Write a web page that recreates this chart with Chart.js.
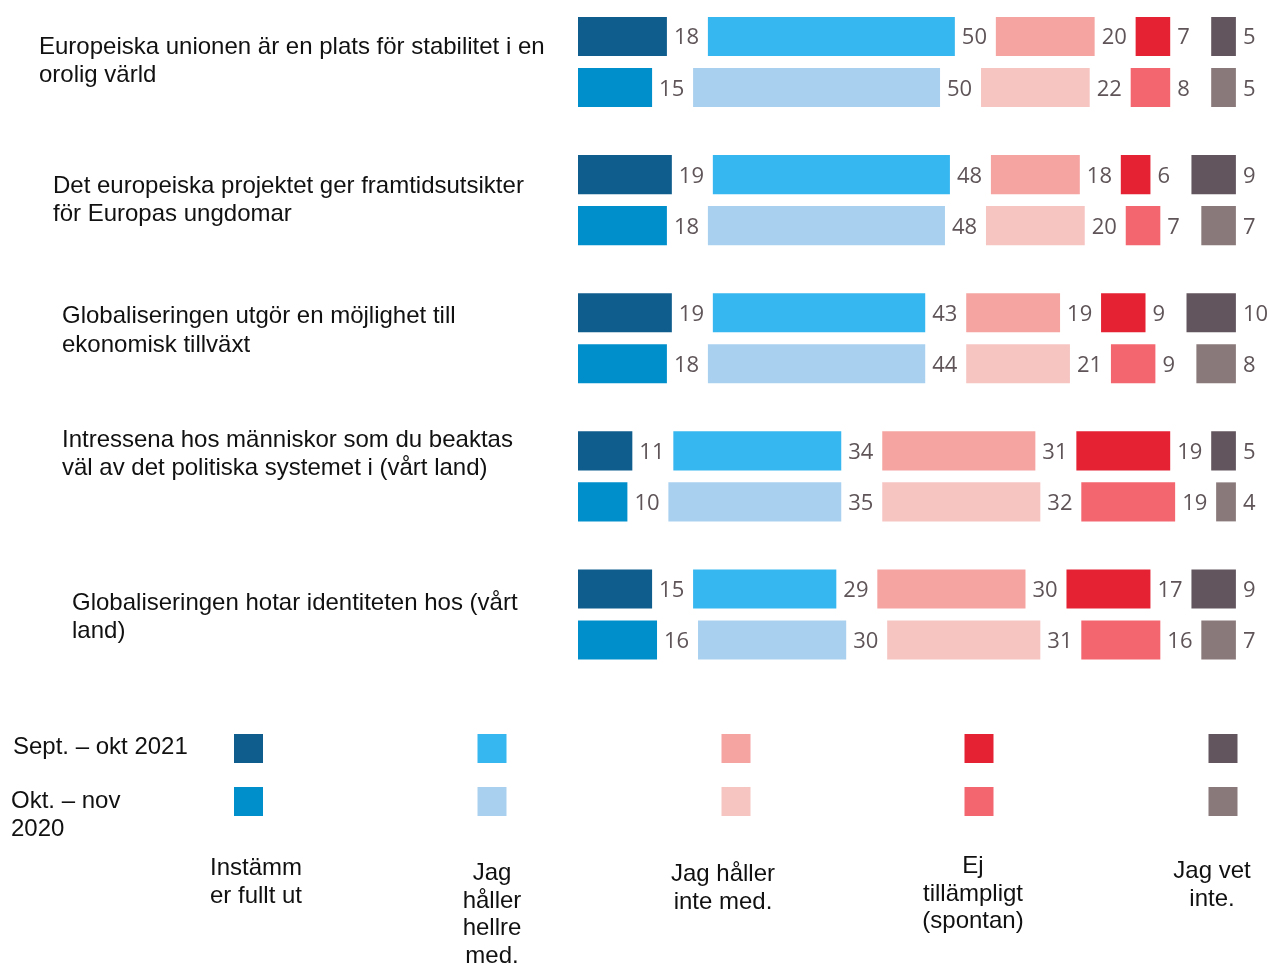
<!DOCTYPE html>
<html>
<head>
<meta charset="utf-8">
<script src="https://cdn.jsdelivr.net/npm/chart.js@4.4.0/dist/chart.umd.min.js"></script>
<style>
  html, body { margin: 0; padding: 0; background: #ffffff; }
  #wrap { width: 1268px; height: 964px; position: relative; }
</style>
</head>
<body>
<div id="wrap"><canvas id="c"></canvas></div>
<script>
// ---------- DATA ----------
const QUESTIONS = [
  ["Europeiska unionen är en plats för stabilitet i en", "orolig värld"],
  ["Det europeiska projektet ger framtidsutsikter", "för Europas ungdomar"],
  ["Globaliseringen utgör en möjlighet till", "ekonomisk tillväxt"],
  ["Intressena hos människor som du beaktas", "väl av det politiska systemet i (vårt land)"],
  ["Globaliseringen hotar identiteten hos (vårt", "land)"]
];
const PERIODS = ["Sept. – okt 2021", "Okt. – nov 2020"];
const PERIOD_LINES = [["Sept. – okt 2021"], ["Okt. – nov", "2020"]];
const RESPONSES = ["Instämmer fullt ut", "Jag håller hellre med.", "Jag håller inte med.", "Ej tillämpligt (spontan)", "Jag vet inte."];
const RESPONSE_LINES = [["Instämm", "er fullt ut"], ["Jag", "håller", "hellre", "med."], ["Jag håller", "inte med."], ["Ej", "tillämpligt", "(spontan)"], ["Jag vet", "inte."]];

const agreeFull2021   = [18, 19, 19, 11, 15];
const agreeRather2021 = [50, 48, 43, 34, 29];
const disagree2021    = [20, 18, 19, 31, 30];
const notApplic2021   = [7, 6, 9, 19, 17];
const dontKnow2021    = [5, 9, 10, 5, 9];

const agreeFull2020   = [15, 18, 18, 10, 16];
const agreeRather2020 = [50, 48, 44, 35, 30];
const disagree2020    = [22, 20, 21, 32, 31];
const notApplic2020   = [8, 7, 9, 19, 16];
const dontKnow2020    = [5, 7, 8, 4, 7];

const SERIES = [
  [agreeFull2021, agreeRather2021, disagree2021, notApplic2021, dontKnow2021],
  [agreeFull2020, agreeRather2020, disagree2020, notApplic2020, dontKnow2020]
];

// ---------- STYLE ----------
const COLORS = [
  ["#0f5d8d", "#37b7ef", "#f5a4a1", "#e42233", "#62555d"],
  ["#008fcb", "#a9d1ef", "#f6c5c2", "#f4666f", "#8a797a"]
];
const GAP = 8.3;            // spacing (in axis units) reserved for the value labels
const X_MAX = 139.7;
const LABEL_FONT = '22px "Open Sans", "Noto Sans", sans-serif';
const LABEL_COLOR = '#5f5558';
const TEXT_FONT = '24px "Liberation Sans", Arial, sans-serif';
const TEXT_COLOR = '#111111';

const Q_INDENT = [39, 53, 62, 62, 72];
const Q_FIRST_BASELINE = [-8.5, -7, -15, -29.5, -4.5];
const Q_LINE_H = 28.3;

const LEG_SQ_X = [248.5, 492, 736, 979, 1223];
const LEG_SQ_Y = [734, 787];
const LEG_SQ = 29;
const LEG_TXT_X = [256, 492, 723, 973, 1212];
const LEG_TXT_Y = [875, 880, 881, 873, 878];
const LEG_LINE_H = 27.7;
const PER_X = [13, 11];
const PER_Y = [754, 808];

// ---------- DATASETS ----------
const datasets = [];
SERIES.forEach((periodSeries, p) => {
  periodSeries.forEach((vals, k) => {
    datasets.push({
      label: RESPONSES[k] + ' – ' + PERIODS[p],
      data: vals,
      backgroundColor: COLORS[p][k],
      borderWidth: 0,
      stack: 'p' + p,
      clip: false,
      isValue: true
    });
    if (k < periodSeries.length - 1) {
      datasets.push({
        label: 'gap',
        data: QUESTIONS.map(() => GAP),
        backgroundColor: 'rgba(0,0,0,0)',
        borderWidth: 0,
        stack: 'p' + p,
        clip: false,
        isValue: false
      });
    }
  });
});

// ---------- PLUGINS ----------
const valueLabels = {
  id: 'valueLabels',
  afterDatasetsDraw(chart) {
    const ctx = chart.ctx;
    ctx.save();
    ctx.font = LABEL_FONT;
    ctx.fillStyle = LABEL_COLOR;
    ctx.textAlign = 'left';
    ctx.textBaseline = 'alphabetic';
    chart.data.datasets.forEach((ds, di) => {
      if (!ds.isValue) return;
      const meta = chart.getDatasetMeta(di);
      meta.data.forEach((el, i) => {
        ctx.fillText(String(ds.data[i]), el.x + 7, el.y + 8);
      });
    });
    ctx.restore();
  }
};

const sideText = {
  id: 'sideText',
  afterDraw(chart) {
    const ctx = chart.ctx;
    const yScale = chart.scales.y;
    ctx.save();
    ctx.font = TEXT_FONT;
    ctx.fillStyle = TEXT_COLOR;
    ctx.textBaseline = 'alphabetic';
    // question labels
    ctx.textAlign = 'left';
    QUESTIONS.forEach((lines, i) => {
      const cy = yScale.getPixelForValue(i);
      lines.forEach((t, j) => {
        ctx.fillText(t, Q_INDENT[i], cy + Q_FIRST_BASELINE[i] + j * Q_LINE_H);
      });
    });
    // legend: period labels
    PERIOD_LINES.forEach((lines, p) => {
      lines.forEach((t, j) => ctx.fillText(t, PER_X[p], PER_Y[p] + j * 28));
    });
    // legend: swatches
    COLORS.forEach((row, p) => {
      row.forEach((c, k) => {
        ctx.fillStyle = c;
        ctx.fillRect(LEG_SQ_X[k] - LEG_SQ / 2, LEG_SQ_Y[p], LEG_SQ, LEG_SQ);
      });
    });
    // legend: response labels
    ctx.fillStyle = TEXT_COLOR;
    ctx.textAlign = 'center';
    RESPONSE_LINES.forEach((lines, k) => {
      lines.forEach((t, j) => ctx.fillText(t, LEG_TXT_X[k], LEG_TXT_Y[k] + j * LEG_LINE_H));
    });
    ctx.restore();
  }
};

// ---------- CHART ----------
new Chart(document.getElementById('c'), {
  type: 'bar',
  data: {
    labels: QUESTIONS.map(q => q.join(' ')),
    datasets: datasets
  },
  options: {
    indexAxis: 'y',
    responsive: true,
    maintainAspectRatio: false,
    animation: false,
    categoryPercentage: 0.7386,
    barPercentage: 0.765,
    layout: { padding: { left: 578, right: 0, top: 62, bottom: 349.5 } },
    scales: {
      x: { type: 'linear', min: 0, max: X_MAX, stacked: true, display: false, grid: { display: false } },
      y: { type: 'category', offset: false, display: false, grid: { display: false } }
    },
    plugins: {
      legend: { display: false },
      tooltip: { enabled: false },
      title: { display: false }
    }
  },
  plugins: [valueLabels, sideText]
});
</script>
</body>
</html>
